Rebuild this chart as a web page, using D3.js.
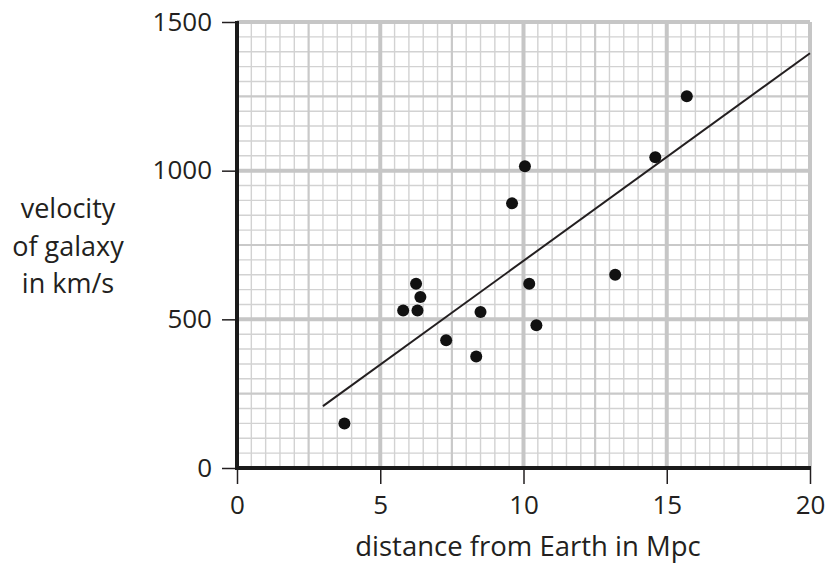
<!DOCTYPE html>
<meta charset="utf-8">
<head>
    <script type="text/javascript" src="https://cdn.jsdelivr.net/npm/d3@7"></script>
    <style>
        body { margin: 0; background: #fff; }
        text { font-family: "Open Sans", sans-serif; fill: #231f20; }
    </style>
    <title>Velocity of galaxies</title>
</head>
<body>
    <div id="chart"></div>
    <script type="text/javascript">
        // distances in Mpc, velocities in km/s
        var distance = [3.75, 5.8, 6.25, 6.3, 6.4, 7.3, 8.35, 8.5, 9.6, 10.05, 10.2, 10.45, 13.2, 14.6, 15.7];
        var velocity = [150, 530, 620, 530, 575, 430, 375, 525, 890, 1015, 620, 480, 650, 1045, 1250];

        // best-fit line end points
        var fitX = [3, 20];
        var fitY = [208, 1395];

        var xTicks = [0, 5, 10, 15, 20];
        var yTicks = [0, 500, 1000, 1500];
        var yTitle = ["velocity", "of galaxy", "in km/s"];
        var xTitle = "distance from Earth in Mpc";

        var w = 828;
        var h = 565;

        var svg = d3.select("#chart")
                    .append("svg")
                    .attr("width", w)
                    .attr("height", h);

        var x = d3.scaleLinear().domain([0, 20]).range([237, 810]);
        var y = d3.scaleLinear().domain([0, 1500]).range([468, 22]);

        // graph paper: fine every 0.5 / 50, medium every 2.5 / 250, heavy every 5 / 500
        var gx = d3.range(0, 20.001, 0.5);
        var gy = d3.range(0, 1500.001, 50);

        function level(v, step) {
            var r = v / step;
            if (Math.abs(r % 10) < 1e-6) return 2;
            if (Math.abs(r % 5) < 1e-6) return 1;
            return 0;
        }
        var widths = [1.4, 2.2, 4];
        var colours = ["#d2d2d2", "#c9c9c9", "#c6c6c6"];

        var grid = svg.append("g");
        [0, 1, 2].forEach(function(l) {
            grid.selectAll(".vx" + l)
                .data(gx.filter(function(d) { return level(d, 0.5) === l; }))
                .enter().append("line")
                .attr("x1", function(d) { return x(d); })
                .attr("x2", function(d) { return x(d); })
                .attr("y1", y(0)).attr("y2", y(1500))
                .attr("stroke", colours[l])
                .attr("stroke-width", widths[l]);
            grid.selectAll(".hy" + l)
                .data(gy.filter(function(d) { return level(d, 50) === l; }))
                .enter().append("line")
                .attr("y1", function(d) { return y(d); })
                .attr("y2", function(d) { return y(d); })
                .attr("x1", x(0)).attr("x2", x(20))
                .attr("stroke", colours[l])
                .attr("stroke-width", widths[l]);
        });

        // axes
        var xAxis = d3.axisBottom(x).tickValues(xTicks).tickFormat(d3.format("d")).tickSize(16).tickPadding(12);
        var yAxis = d3.axisLeft(y).tickValues(yTicks).tickFormat(d3.format("d")).tickSize(15).tickPadding(10);

        var gxA = svg.append("g").attr("transform", "translate(0," + y(0) + ")").call(xAxis);
        var gyA = svg.append("g").attr("transform", "translate(" + x(0) + ",0)").call(yAxis);

        [gxA, gyA].forEach(function(g) {
            g.select(".domain").remove();
            g.selectAll(".tick line").attr("stroke", "#231f20").attr("stroke-width", 1.5);
            g.selectAll(".tick text")
             .style("font-family", "'Open Sans', sans-serif")
             .style("font-size", "26px")
             .attr("fill", "#231f20");
        });

        svg.append("line")
           .attr("x1", x(0)).attr("x2", x(0))
           .attr("y1", y(1500) - 1).attr("y2", y(0) + 2)
           .attr("stroke", "#1a1a1a").attr("stroke-width", 4);
        svg.append("line")
           .attr("x1", x(0) - 2).attr("x2", x(20) + 1)
           .attr("y1", y(0)).attr("y2", y(0))
           .attr("stroke", "#1a1a1a").attr("stroke-width", 4);

        // best-fit line
        svg.append("line")
           .attr("x1", x(fitX[0])).attr("y1", y(fitY[0]))
           .attr("x2", x(fitX[1])).attr("y2", y(fitY[1]))
           .attr("stroke", "#231f20").attr("stroke-width", 2);

        // points
        svg.selectAll("circle")
           .data(distance)
           .enter()
           .append("circle")
           .attr("cx", function(d) { return x(d); })
           .attr("cy", function(d, i) { return y(velocity[i]); })
           .attr("r", 6)
           .attr("fill", "#111");

        // titles
        svg.append("text")
           .attr("x", 528).attr("y", 556)
           .attr("text-anchor", "middle")
           .style("font-size", "27.5px")
           .text(xTitle);

        svg.selectAll(".ytitle")
           .data(yTitle)
           .enter()
           .append("text")
           .attr("x", 68)
           .attr("y", function(d, i) { return 218 + i * 37.5; })
           .attr("text-anchor", "middle")
           .style("font-size", "27px")
           .text(function(d) { return d; });
    </script>
</body>
</html>
